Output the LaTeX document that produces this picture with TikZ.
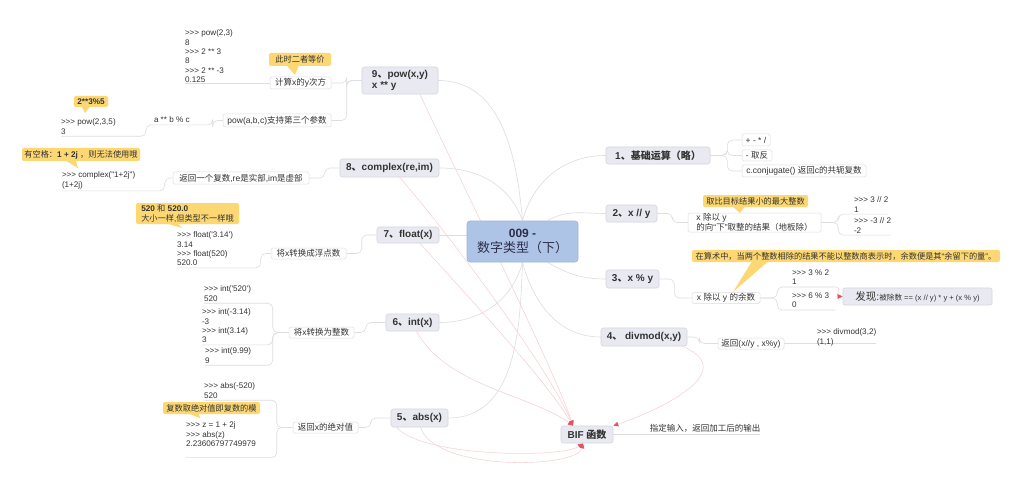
\documentclass[tikz,border=0pt]{standalone}
\usepackage{fontspec}
\setmainfont{Liberation Sans}
\newfontfamily\latfont{Liberation Sans}
\newfontfamily\cjkfont{Noto Sans CJK SC}
\usetikzlibrary{arrows.meta,calc}
\pgfdeclarelayer{bg}
\pgfsetlayers{bg,main}
% automatic switch to the CJK font for CJK characters
\XeTeXinterchartokenstate=1
\newXeTeXintercharclass\cjkcls
\newcount\cjkcc
\cjkcc="3000 \loop\ifnum\cjkcc<"3040 \XeTeXcharclass\cjkcc=\cjkcls \advance\cjkcc 1 \repeat
\cjkcc="4E00 \loop\ifnum\cjkcc<"A000 \XeTeXcharclass\cjkcc=\cjkcls \advance\cjkcc 1 \repeat
\cjkcc="FF00 \loop\ifnum\cjkcc<"FFF0 \XeTeXcharclass\cjkcc=\cjkcls \advance\cjkcc 1 \repeat
\XeTeXinterchartoks 0 \cjkcls = {\cjkfont}
\XeTeXinterchartoks 4095 \cjkcls = {\cjkfont}
\XeTeXinterchartoks \cjkcls 0 = {\latfont}
\XeTeXinterchartoks \cjkcls 4095 = {\latfont}
\definecolor{txt}{HTML}{333333}
\definecolor{mainfill}{HTML}{E9EAF1}
\definecolor{mainborder}{HTML}{D3D4DE}
\definecolor{cfill}{HTML}{AEC4E7}
\definecolor{cborder}{HTML}{9FB5DA}
\definecolor{subborder}{HTML}{DDDDDD}
\definecolor{connc}{HTML}{DDDDE2}
\definecolor{yel}{HTML}{FCD772}
\definecolor{relc}{HTML}{F6D0D5}
\definecolor{relred}{HTML}{E2525F}
\begin{document}
\begin{tikzpicture}[x=1pt,y=-1pt,
  centerbox/.style={draw=cborder, fill=cfill, rounded corners=3pt, line width=0.6pt, align=center, text=txt!90!blue, inner sep=0pt, font=\latfont\fontsize{12}{15}\selectfont},
  mainbox/.style={draw=mainborder, fill=mainfill, rounded corners=2.5pt, line width=0.6pt, font=\latfont\fontsize{10}{11.5}\selectfont\bfseries, text=txt, inner sep=0pt},
  subbox/.style={draw=subborder, fill=white, rounded corners=1.5pt, line width=0.5pt, font=\latfont\fontsize{8.5}{9.8}\selectfont, text=txt, inner sep=0pt},
  code/.style={font=\latfont\fontsize{8.1}{9.3}\selectfont, align=left, inner sep=0pt, outer ysep=2pt, outer xsep=0pt, anchor=north west, text=txt},
  callout/.style={fill=yel, rounded corners=2pt, font=\latfont\fontsize{8.2}{9.4}\selectfont, text=txt, inner sep=0pt},
  conn/.style={draw=connc, line width=0.6pt, rounded corners=5pt},
  rel/.style={draw=relc, line width=0.55pt, -{Triangle[length=5pt,width=4.5pt,color=relred]}}]
\begin{pgfonlayer}{bg}
\fill[white] (0,0) rectangle (1023,500);
\end{pgfonlayer}
\useasboundingbox (0,0) rectangle (1023,500);

% central and main topics
\node[centerbox, minimum width=111pt, minimum height=41pt] (c) at (522.5,241.5) {{\bfseries 009 -}\\{\fontsize{13}{15}\selectfont 数字类型（下）}};
\node[mainbox, minimum width=76pt, minimum height=27pt, align=left] (pow) at (400,80.5) {9、pow(x,y)\\x ** y};
\node[mainbox, minimum width=99pt, minimum height=18pt] (complex) at (389.5,168) {8、complex(re,im)};
\node[mainbox, minimum width=62pt, minimum height=16pt] (float) at (408,235) {7、float(x)};
\node[mainbox, minimum width=53pt, minimum height=17pt] (int) at (412.5,322.5) {6、int(x)};
\node[mainbox, minimum width=57pt, minimum height=18pt] (abs) at (419.5,418) {5、abs(x)};
\node[mainbox, minimum width=104pt, minimum height=17pt] (n1) at (658,155.5) {1、基础运算（略）};
\node[mainbox, minimum width=51pt, minimum height=17pt] (n2) at (631.5,213.5) {2、x // y};
\node[mainbox, minimum width=53pt, minimum height=18pt] (n3) at (632.5,279) {3、x \% y};
\node[mainbox, minimum width=86pt, minimum height=18pt] (n4) at (644,337) {4、 divmod(x,y)};
\node[mainbox, minimum width=52pt, minimum height=17pt] (bif) at (587,434.5) {BIF 函数};

% sub topics
\node[subbox, minimum width=61pt, minimum height=12pt] (calc) at (300.5,83) {计算x的y次方};
\node[subbox, minimum width=108pt, minimum height=13pt] (powabc) at (277,120.5) {pow(a,b,c)支持第三个参数};
\node[subbox, minimum width=136pt, minimum height=12pt] (cret) at (241,178) {返回一个复数,re是实部,im是虚部};
\node[subbox, minimum width=75pt, minimum height=11pt] (floatc) at (308.5,253.5) {将x转换成浮点数};
\node[subbox, minimum width=65pt, minimum height=11pt] (intc) at (321.5,332.5) {将x转换为整数};
\node[subbox, minimum width=65pt, minimum height=11pt] (absc) at (325.5,427.5) {返回x的绝对值};
\node[subbox, minimum width=28pt, minimum height=12pt] (s1a) at (756,140) {+ - * /};
\node[subbox, minimum width=30pt, minimum height=11pt] (s1b) at (757,155.5) {- 取反};
\node[subbox, minimum width=124pt, minimum height=12pt] (s1c) at (804,171) {c.conjugate() 返回c的共轭复数};
\node[subbox, minimum width=133pt, minimum height=19pt, align=left] (s2) at (754.5,222.5) {x 除以 y\\的向“下”取整的结果（地板除）};
\node[subbox, minimum width=68pt, minimum height=11pt] (s3) at (726,298) {x 除以 y 的余数};
\node[subbox, minimum width=66pt, minimum height=11pt] (s4) at (751,343.5) {返回(x//y , x\%y)};
\node[draw=mainborder, fill=mainfill, rounded corners=2pt, line width=0.6pt, inner sep=0pt, minimum width=149pt, minimum height=17pt, text=txt, font=\latfont\fontsize{10.5}{12}\selectfont] (found) at (917.5,296.5) {发现:{\fontsize{7.6}{9}\selectfont 被除数 == (x // y) * y + (x \% y)}};
\node[inner sep=0pt, text=txt, font=\latfont\fontsize{8.5}{10}\selectfont] (bifc) at (705,428) {指定输入，返回加工后的输出};
\node[code] (abc) at (154,115) {a ** b \% c};

% code samples
\node[code] (k1) at (185,28) {>>> pow(2,3)\\8\\>>> 2 ** 3\\8\\>>> 2 ** -3\\0.125};
\node[code] (k2) at (61,117) {>>> pow(2,3,5)\\3};
\node[code] (k3) at (62,170) {>>> complex("1+2j")\\(1+2j)};
\node[code] (k4) at (177,230) {>>> float('3.14')\\3.14\\>>> float(520)\\520.0};
\node[code] (k5) at (204,284) {>>> int('520')\\520};
\node[code] (k6) at (202,307) {>>> int(-3.14)\\-3\\>>> int(3.14)\\3};
\node[code] (k7) at (205,346) {>>> int(9.99)\\9};
\node[code] (k8) at (204,381) {>>> abs(-520)\\520};
\node[code] (k9) at (186,420) {>>> z = 1 + 2j\\>>> abs(z)\\2.23606797749979};
\node[code] (k10) at (854,195) {>>> 3 // 2\\1};
\node[code] (k11) at (854,216) {>>> -3 // 2\\-2};
\node[code] (k12) at (792,268) {>>> 3 \% 2\\1};
\node[code] (k13) at (792,291) {>>> 6 \% 3\\0};
\node[code] (k14) at (817,327) {>>> divmod(3,2)\\(1,1)};

% callouts
\node[callout, minimum width=62pt, minimum height=13pt] (cb1) at (300,59.5) {此时二者等价};
\node[callout, minimum width=34pt, minimum height=11pt] (cb2) at (91,101.5) {\bfseries 2**3\%5};
\node[callout, minimum width=118pt, minimum height=13pt] (cb3) at (81,154.5) {有空格：\textbf{1 + 2j} ，则无法使用哦};
\node[callout, minimum width=103pt, minimum height=21pt, align=left] (cb4) at (187.5,213.5) {\textbf{520} 和 \textbf{520.0}\\大小一样,但类型不一样哦};
\node[callout, minimum width=97pt, minimum height=12pt] (cb5) at (211.5,408) {复数取绝对值即复数的模};
\node[callout, minimum width=105pt, minimum height=12pt] (cb6) at (755.5,201) {取比目标结果小的最大整数};
\node[callout, minimum width=308pt, minimum height=12pt] (cb7) at (846,256) {在算术中，当两个整数相除的结果不能以整数商表示时，余数便是其“余留下的量”。};
\coordinate (t1) at (295,75);
\coordinate (t2) at (85,113);
\coordinate (t3) at (78,168);
\coordinate (t4) at (182,228);
\coordinate (t5) at (200,418);
\coordinate (t6) at (740,213);
\coordinate (t7) at (733,292);
\fill[yel] ($(cb1.south west)+(18,-0.5)$) -- (t1) -- ($(cb1.south west)+(30,-0.5)$) -- cycle;
\fill[yel] ($(cb2.south west)+(8,-0.5)$) -- (t2) -- ($(cb2.south west)+(16,-0.5)$) -- cycle;
\fill[yel] ($(cb3.south west)+(44,-0.5)$) -- (t3) -- ($(cb3.south west)+(54,-0.5)$) -- cycle;
\fill[yel] ($(cb4.south west)+(32,-0.5)$) -- (t4) -- ($(cb4.south west)+(42,-0.5)$) -- cycle;
\fill[yel] ($(cb5.south west)+(26,-0.5)$) -- (t5) -- ($(cb5.south west)+(36,-0.5)$) -- cycle;
\fill[yel] ($(cb6.south west)+(30,-0.5)$) -- (t6) -- ($(cb6.south west)+(42,-0.5)$) -- cycle;
\fill[yel] ($(cb7.south west)+(60,-0.5)$) -- (t7) -- ($(cb7.south west)+(76,-0.5)$) -- cycle;

\begin{pgfonlayer}{bg}
% centre to main topics
\draw[conn] (c.north) to[out=95,in=0] (pow.east);
\draw[conn] (c.north) to[out=110,in=0] (complex.east);
\draw[conn] (float.east) -- (float.east -| c.west);
\draw[conn] (c.south) to[out=-105,in=0] (int.east);
\draw[conn] (c.south) to[out=-92,in=0] (abs.east);
\draw[conn] (c.north) to[out=75,in=180] (n1.west);
\draw[conn] ($(c.north)+(25,0)$) to[out=30,in=180] (n2.west);
\draw[conn] ($(c.south)+(25,0)$) to[out=-30,in=180] (n3.west);
\draw[conn] (c.south) to[out=-75,in=180] (n4.west);
% main topics to sub topics
\draw[conn] (pow.west) -- ++(-15,0) |- (calc.east);
\draw[conn] (pow.west) -- ++(-15,0) |- (powabc.east);
\draw[conn] (complex.west) -- ++(-15,0) |- (cret.east);
\draw[conn] (float.west) -- ++(-15,0) |- (floatc.east);
\draw[conn] (int.west) -- ++(-20,0) |- (intc.east);
\draw[conn] (abs.west) -- ++(-20,0) |- (absc.east);
\draw[conn] (n1.east) -- ++(17,0) |- (s1a.west);
\draw[conn] (n1.east) -- ++(17,0) |- (s1b.west);
\draw[conn] (n1.east) -- ++(17,0) |- (s1c.west);
\draw[conn] (n2.east) -- ++(15,0) |- (s2.west);
\draw[conn] (n3.east) -- ++(15,0) |- (s3.west);
\draw[conn] (n4.east) -- ++(12,0) |- (s4.west);
\draw[conn] (bif.east) -- (bif.east -| bifc.east);
% sub topics to code samples
\draw[conn] (calc.west) -- (calc.west -| k1.west);
\draw[conn] (powabc.west) -- ++(-10,0) |- (abc.south east) -- (abc.south west) -- ++(-8,0) |- (k2.south west);
\draw[conn] (cret.west) -- ++(-8,0) |- (k3.south west);
\draw[conn] (floatc.west) -- ++(-10,0) |- (k4.south west);
\draw[conn] (intc.west) -- ++(-16,0) |- (k5.south west);
\draw[conn] (intc.west) -- ++(-16,0) |- (k6.south west);
\draw[conn] (intc.west) -- ++(-16,0) |- (k7.south west);
\draw[conn] (absc.west) -- ++(-16,0) |- (k8.south west);
\draw[conn] (absc.west) -- ++(-16,0) |- ($(k9.south west)+(0,9)$);
\draw[conn] (s2.east) -- ++(17,0) |- (k10.south west) -- (k10.south east);
\draw[conn] (s2.east) -- ++(17,0) |- (k11.south west) -- (k11.south east);
\draw[conn] (s3.east) -- ++(17,0) |- (k12.south west) -- ++(43,0);
\draw[conn] (s3.east) -- ++(17,0) |- (k13.south west) -- ++(43,0);
\draw[conn] (s4.east) -- (s4.east -| k14.east);
% relationships to BIF
\coordinate (bifin) at ($(bif.north)+(-14,0)$);
\coordinate (bifbot) at ($(bif.south)+(-4,0)$);
\draw[rel] ($(pow.south)+(20,0)$) .. controls +(25,55) and +(-20,-60) .. (bifin);
\draw[rel] ($(complex.south)+(10,0)$) .. controls +(40,45) and +(-25,-60) .. (bifin);
\draw[rel] ($(float.south)+(12,0)$) .. controls +(40,45) and +(-30,-50) .. (bifin);
\draw[rel] ($(int.south)+(4,0)$) .. controls +(30,55) and +(-40,-30) .. (bifin);
\draw[rel] ($(abs.south)+(1,0)$) .. controls +(15,45) and +(-5,25) .. (bifbot);
\draw[rel] ($(abs.south west)+(6,0)$) .. controls +(25,30) and +(-20,15) .. (bifbot);
\draw[rel] ($(n4.south east)+(-5,0)$) .. controls +(60,25) and +(45,-15) .. (bif.north east);
\draw[rel] ($(k12.south west)+(43,0)$) .. controls +(8,0) and +(-8,0) .. (found.west);
\end{pgfonlayer}
\end{tikzpicture}
\end{document}
